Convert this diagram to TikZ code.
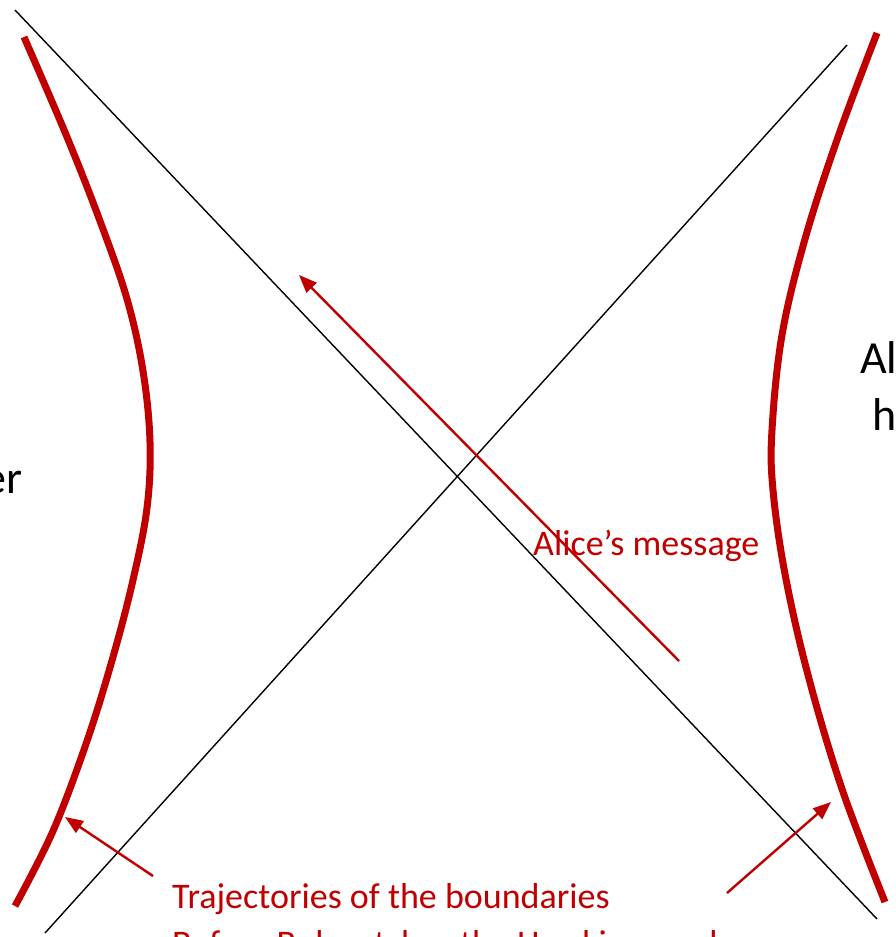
\documentclass[tikz,border=0pt]{standalone}
\usepackage{fontspec}
\setmainfont{Carlito}
\usetikzlibrary{arrows.meta}
\definecolor{darkred}{HTML}{C00000}

\begin{document}
\begin{tikzpicture}[x=1pt,y=-1pt,
  horizon/.style={black,line width=1.4pt},
  boundary/.style={darkred,line width=7pt},
  signal/.style={darkred,line width=2.4pt,-{Triangle[length=18pt,width=14pt]}},
  redlabel/.style={darkred,font=\fontsize{36}{44}\selectfont,inner sep=0pt,anchor=base west},
  blacklabel/.style={black,font=\fontsize{46}{55}\selectfont,inner sep=0pt}]
\useasboundingbox (0,0) rectangle (895,937);
% horizons
\coordinate (H1a) at (15,10);
\coordinate (H1b) at (877,919);
\coordinate (H2a) at (45,933);
\coordinate (H2b) at (847,45);
\draw[horizon] (H1a) -- (H1b);
\draw[horizon] (H2a) -- (H2b);
% boundaries
\draw[boundary] plot[smooth,tension=0.6] coordinates {(24,37) (67,137) (100,221) (127,299) (143,371) (150,442) (147,508) (133,580) (113,657) (87,741) (53,831) (15,906)};
\draw[boundary] plot[smooth,tension=0.6] coordinates {(877,33) (838,137) (805,239) (782,335) (772,430) (773,490) (785,574) (808,675) (842,789) (885,902)};
% labels
\node[redlabel] (msg) at (533,555) {Alice’s message};
\node[redlabel] (traj) at (172,908) {Trajectories of the boundaries};
\node[redlabel] (bob) at (172,955) {Before Bob catches the Hawking mode};
\node[blacklabel,anchor=base east] (er) at (23,493) {er};
\node[blacklabel,anchor=base west] (al) at (860,373) {Al};
\node[blacklabel,anchor=base west] (h) at (872,430) {h};
% arrows
\coordinate (M0) at (679,661);
\coordinate (M1) at (299,275);
\coordinate (L0) at (153,876);
\coordinate (L1) at (65,817);
\coordinate (R0) at (727,893);
\coordinate (R1) at (831,802);
\draw[signal] (M0) -- (M1);
\draw[signal] (L0) -- (L1);
\draw[signal] (R0) -- (R1);
\end{tikzpicture}
\end{document}
